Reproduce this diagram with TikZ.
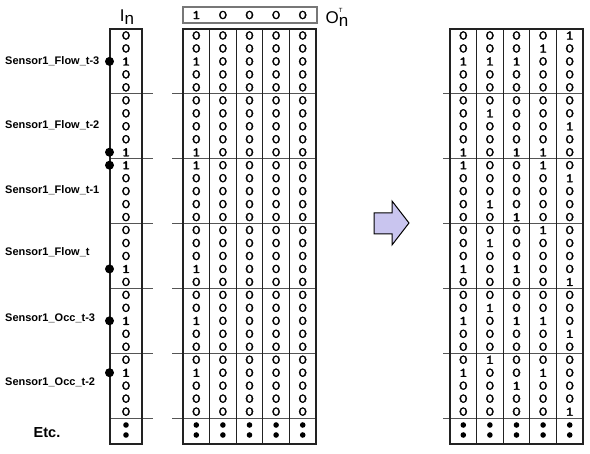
\documentclass[tikz,border=0pt]{standalone}
\usepackage{fontspec}
\setmainfont{Liberation Sans}
\newfontfamily\bitfont{Latin Modern Mono}[FakeBold=2.2]
\newcommand\bitval[1]{\scalebox{1.35}[1]{#1}}
\usepackage{xcolor}
\definecolor{gridline}{HTML}{222222}
\definecolor{sepline}{HTML}{555555}
\definecolor{boxline}{HTML}{777777}
\definecolor{arrowfill}{HTML}{C9C5EF}

\tikzset{
  bit/.style={font=\bitfont\fontsize{13}{13}\selectfont, inner sep=0pt},
  sensor/.style={font=\bfseries\fontsize{11}{12}\selectfont, inner sep=0pt, anchor=west},
  marker/.style={circle, fill=black, inner sep=0pt, minimum size=9pt},
  frame/.style={draw=gridline, line width=1.2pt},
  sep/.style={draw=sepline, line width=1pt},
}

\begin{document}
\begin{tikzpicture}[x=1pt, y=-1pt,
    declare function={rowy(\i)=29+12.97*(\i-0.5); sepy(\k)=29+64.85*\k;}]
    \useasboundingbox (0,0) rectangle (590,454);

    % Headers
    \node[font=\fontsize{17}{17}\selectfont, inner sep=0pt] (inlab) at (127,17)
        {I\raisebox{-3pt}{n}};
    \draw[draw=boxline, line width=1.4pt] (183,7) rectangle (317,23);
    \foreach \col/\cx/\v in {1/196.3/1, 2/222.9/0, 3/249.5/0, 4/276.1/0, 5/302.7/0}
        \node[bit] (ot-\col) at (\cx,15) {\bitval{\v}};
    \node[font=\fontsize{17}{17}\selectfont, inner sep=0pt] (otlab) at (337,17)
        {O\rlap{\raisebox{11pt}{\fontsize{6}{6}\selectfont T}}\raisebox{-3pt}{n}};

    % Block separators
    \foreach \k in {1,...,6} {
        \draw[sep] (110,{sepy(\k)}) -- (153,{sepy(\k)});
        \draw[sep] (172,{sepy(\k)}) -- (316,{sepy(\k)});
        \draw[sep] (443,{sepy(\k)}) -- (582,{sepy(\k)});
    }

    % Frames
    \draw[frame] (110,29) rectangle (142,444);
    \draw[frame] (183,29) rectangle (316,444);
    \foreach \cx in {209.6,236.2,262.8,289.4}
        \draw[frame] (\cx,29) -- (\cx,444);
    \draw[frame] (450,29) rectangle (583,444);
    \foreach \cx in {476.6,503.2,529.8,556.4}
        \draw[frame] (\cx,29) -- (\cx,444);

    % In column and I_n O_n^T
    \foreach \blk/\hot in {0/3,1/5,2/1,3/4,4/3,5/2} {
        \foreach \row in {1,...,5} {
            \pgfmathtruncatemacro\idx{5*\blk+\row}
            \pgfmathtruncatemacro\val{\row==\hot}
            \node[bit] (in-\idx) at (126,{rowy(\idx)}) {\bitval{\val}};
            \node[bit] (mid-1-\idx) at (196.3,{rowy(\idx)}) {\bitval{\val}};
            \foreach \col/\cx in {2/222.9,3/249.5,4/276.1,5/302.7}
                \node[bit] (mid-\col-\idx) at (\cx,{rowy(\idx)}) {\bitval{0}};
        }
    }

    % Result matrix
    \foreach \idx/\va/\vb/\vc/\vd/\ve in {
        1/0/0/0/0/1, 2/0/0/0/1/0, 3/1/1/1/0/0, 4/0/0/0/0/0, 5/0/0/0/0/0,
        6/0/0/0/0/0, 7/0/1/0/0/0, 8/0/0/0/0/1, 9/0/0/0/0/0, 10/1/0/1/1/0,
        11/1/0/0/1/0, 12/0/0/0/0/1, 13/0/0/0/0/0, 14/0/1/0/0/0, 15/0/0/1/0/0,
        16/0/0/0/1/0, 17/0/1/0/0/0, 18/0/0/0/0/0, 19/1/0/1/0/0, 20/0/0/0/0/1,
        21/0/0/0/0/0, 22/0/1/0/0/0, 23/1/0/1/1/0, 24/0/0/0/0/1, 25/0/0/0/0/0,
        26/0/1/0/0/0, 27/1/0/0/1/0, 28/0/0/1/0/0, 29/0/0/0/0/0, 30/0/0/0/0/1} {
        \foreach \col/\cx/\v in {1/463.3/\va, 2/489.9/\vb, 3/516.5/\vc, 4/543.1/\vd, 5/569.7/\ve}
            \node[bit] (out-\col-\idx) at (\cx,{rowy(\idx)}) {\bitval{\v}};
    }

    % Etc. dots
    \foreach \cx in {126,196.3,222.9,249.5,276.1,302.7,463.3,489.9,516.5,543.1,569.7} {
        \fill (\cx,425) circle (2.8);
        \fill (\cx,435) circle (2.8);
    }

    % Sensor labels and markers
    \foreach \idx in {3,10,11,19,23,27}
        \node[marker] (mk-\idx) at (109.5,{rowy(\idx)}) {};
    \node[sensor] (lab-f3) at (5,61) {Sensor1\_Flow\_t-3};
    \node[sensor] (lab-f2) at (5,125) {Sensor1\_Flow\_t-2};
    \node[sensor] (lab-f1) at (5,190) {Sensor1\_Flow\_t-1};
    \node[sensor] (lab-f0) at (5,252) {Sensor1\_Flow\_t};
    \node[sensor] (lab-o3) at (5,318) {Sensor1\_Occ\_t-3};
    \node[sensor] (lab-o2) at (5,382) {Sensor1\_Occ\_t-2};
    \node[font=\bfseries\fontsize{14.5}{15}\selectfont, inner sep=0pt] (etc) at (47,433) {Etc.};

    % Arrow
    \draw[fill=arrowfill, line width=1pt, line join=miter]
        (374,213) -- (392,213) -- (392,201) -- (409,223) -- (392,245)
        -- (392,234) -- (374,234) -- cycle;
\end{tikzpicture}
\end{document}
